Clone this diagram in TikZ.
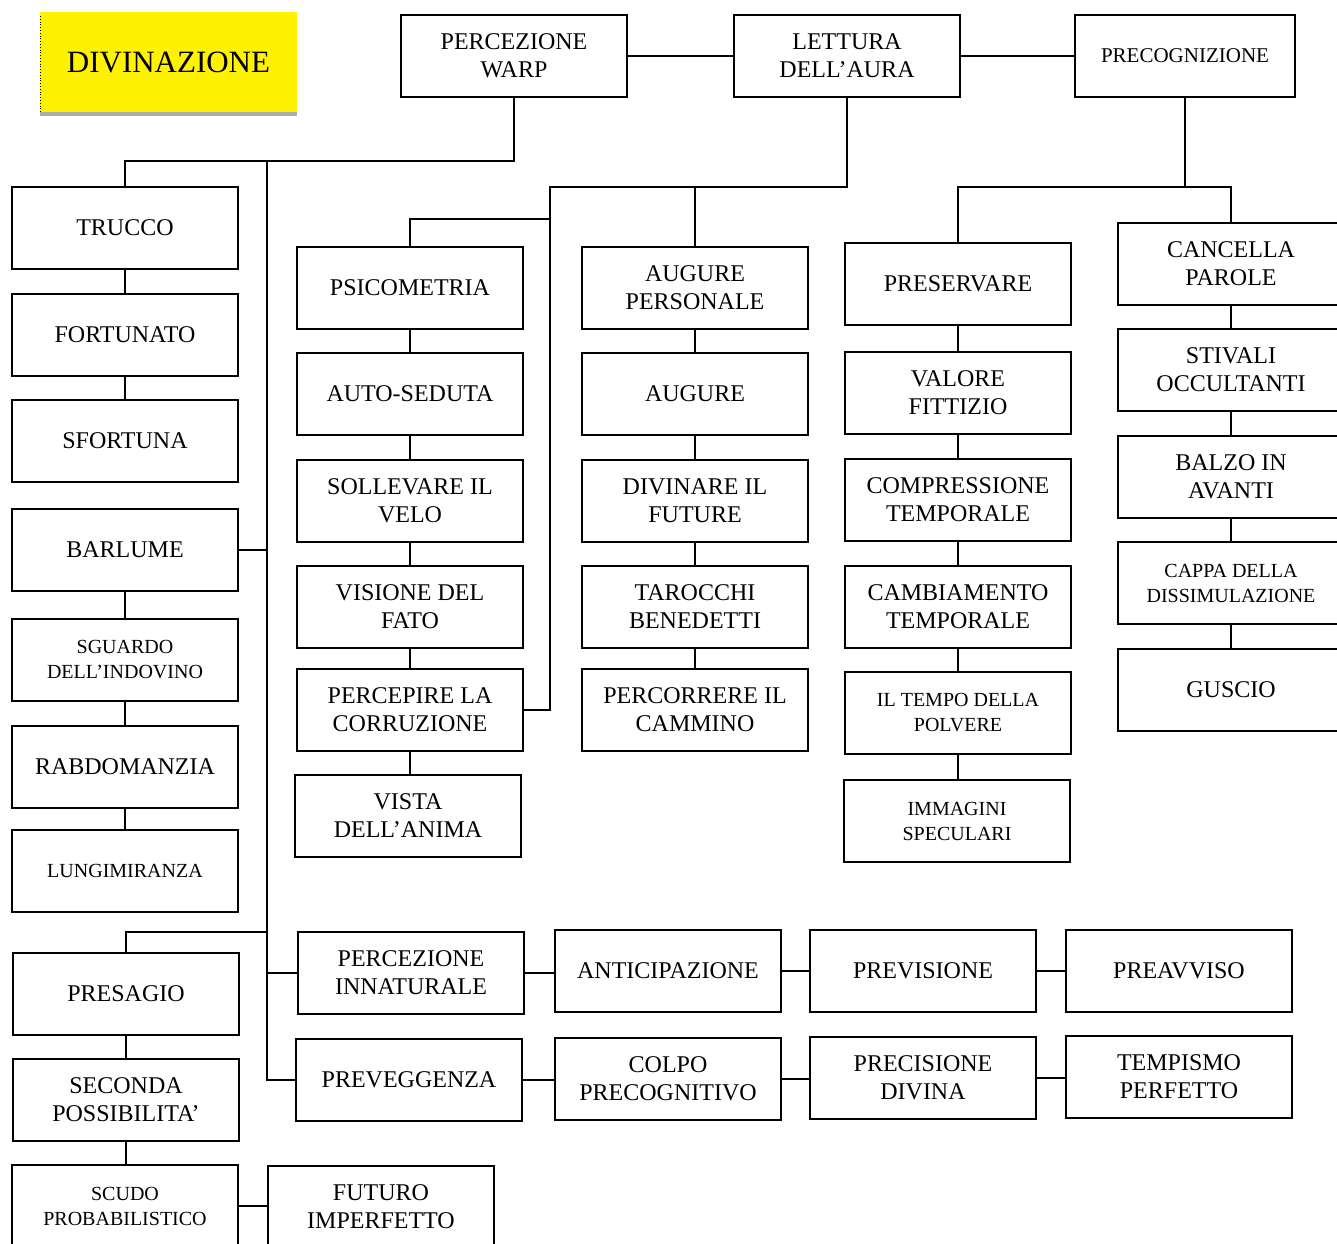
\documentclass[tikz,border=0pt]{standalone}
\usepackage{fontspec}
\setmainfont{Liberation Serif}

\tikzset{
  card/.style={draw, line width=1.3pt, minimum width=113pt, minimum height=41pt,
    align=center, inner sep=0pt, font=\fontsize{12}{14}\selectfont},
  smallcard/.style={card, font=\fontsize{10}{12.5}\selectfont},
  link/.style={line width=0.6pt}
}

\begin{document}
\begin{tikzpicture}[x=0.5pt,y=-0.5pt]
\useasboundingbox (0,0) rectangle (1337,1243);

% title
\fill[gray!65] (40,112) rectangle (297,116);
\node[fill=yellow, minimum width=128.5pt, minimum height=50pt, inner sep=0pt,
  font=\fontsize{15.5}{18}\selectfont] (div) at (168.5,62) {DIVINAZIONE};
\draw[densely dotted, line width=0.4pt] (40,16) -- (40,112);

% top row
\node[card] (pw) at (514,56) {PERCEZIONE\\WARP};
\node[card] (la) at (847,56) {LETTURA\\DELL'AURA};
\node[card, minimum width=110pt, font=\fontsize{10.5}{13}\selectfont] (prec) at (1185,56) {PRECOGNIZIONE};

% left column
\node[card] (trucco) at (125,228) {TRUCCO};
\node[card] (fortunato) at (125,335) {FORTUNATO};
\node[card] (sfortuna) at (125,441) {SFORTUNA};
\node[card] (barlume) at (125,550) {BARLUME};
\node[smallcard] (sguardo) at (125,660) {SGUARDO\\DELL'INDOVINO};
\node[card] (rabdo) at (125,767) {RABDOMANZIA};
\node[smallcard] (lungi) at (125,871) {LUNGIMIRANZA};
\node[card] (presagio) at (126,994) {PRESAGIO};
\node[card] (seconda) at (126,1100) {SECONDA\\POSSIBILITA'};
\node[smallcard] (scudo) at (125,1206) {SCUDO\\PROBABILISTICO};
\node[card] (futuro) at (381,1207) {FUTURO\\IMPERFETTO};

% lettura dell'aura
\node[card] (psico) at (410,288) {PSICOMETRIA};
\node[card] (auto) at (410,394) {AUTO-SEDUTA};
\node[card] (sollevare) at (410,501) {SOLLEVARE IL\\VELO};
\node[card] (visione) at (410,607) {VISIONE DEL\\FATO};
\node[card] (percepire) at (410,710) {PERCEPIRE LA\\CORRUZIONE};
\node[card] (vista) at (408,816) {VISTA\\DELL'ANIMA};

\node[card] (augp) at (695,288) {AUGURE\\PERSONALE};
\node[card] (augure) at (695,394) {AUGURE};
\node[card] (divinare) at (695,501) {DIVINARE IL\\FUTURE};
\node[card] (tarocchi) at (695,607) {TAROCCHI\\BENEDETTI};
\node[card] (percorrere) at (695,710) {PERCORRERE IL\\CAMMINO};

% precognizione
\node[card] (preservare) at (958,284) {PRESERVARE};
\node[card] (valore) at (958,393) {VALORE\\FITTIZIO};
\node[card] (compr) at (958,500) {COMPRESSIONE\\TEMPORALE};
\node[card] (cambio) at (958,607) {CAMBIAMENTO\\TEMPORALE};
\node[smallcard] (tempo) at (958,713) {IL TEMPO DELLA\\POLVERE};
\node[smallcard] (immagini) at (957,821) {IMMAGINI\\SPECULARI};

\node[card] (cancella) at (1231,264) {CANCELLA\\PAROLE};
\node[card] (stivali) at (1231,370) {STIVALI\\OCCULTANTI};
\node[card] (balzo) at (1231,477) {BALZO IN\\AVANTI};
\node[smallcard] (cappa) at (1231,583) {CAPPA DELLA\\DISSIMULAZIONE};
\node[card] (guscio) at (1231,690) {GUSCIO};

% bottom rows
\node[card] (innat) at (411,973) {PERCEZIONE\\INNATURALE};
\node[card] (anticip) at (668,971) {ANTICIPAZIONE};
\node[card] (previs) at (923,971) {PREVISIONE};
\node[card] (preavv) at (1179,971) {PREAVVISO};
\node[card] (preveg) at (409,1080) {PREVEGGENZA};
\node[card] (colpo) at (668,1079) {COLPO\\PRECOGNITIVO};
\node[card] (precis) at (923,1078) {PRECISIONE\\DIVINA};
\node[card] (tempis) at (1179,1077) {TEMPISMO\\PERFETTO};

% connectors
\coordinate (wtop) at (267,161);
\coordinate (wpres) at (267,932);
\coordinate (lbar) at (550,187);
\coordinate (lpsi) at (550,219);
\coordinate (pbar) at (1185,187);

\draw[link] (pw.south) |- (wtop) -| (trucco.north);
\draw[link] (wtop) |- (preveg.west);
\draw[link] (barlume.east) -- (barlume.east -| wtop);
\draw[link] (innat.west) -- (innat.west -| wtop);
\draw[link] (wpres) -| (presagio.north);

\draw[link] (la.south) |- (lbar) |- (percepire.east);
\draw[link] (augp.north) -- (augp.north |- lbar);
\draw[link] (lpsi) -| (psico.north);

\draw[link] (prec.south) -- (pbar);
\draw[link] (preservare.north) |- (pbar) -| (cancella.north);

\foreach \a/\b in {trucco/fortunato, fortunato/sfortuna, barlume/sguardo,
    sguardo/rabdo, rabdo/lungi, presagio/seconda, seconda/scudo,
    psico/auto, auto/sollevare, sollevare/visione, visione/percepire,
    percepire/vista, augp/augure, augure/divinare, divinare/tarocchi,
    tarocchi/percorrere, preservare/valore, valore/compr, compr/cambio,
    cambio/tempo, tempo/immagini, cancella/stivali, stivali/balzo,
    balzo/cappa, cappa/guscio}
  \draw[link] (\a.south) -- (\a.south |- \b.north);

\foreach \a/\b in {pw/la, la/prec, innat/anticip, anticip/previs,
    previs/preavv, preveg/colpo, colpo/precis, precis/tempis, scudo/futuro}
  \draw[link] (\a.east) -- (\a.east -| \b.west);
\end{tikzpicture}
\end{document}
